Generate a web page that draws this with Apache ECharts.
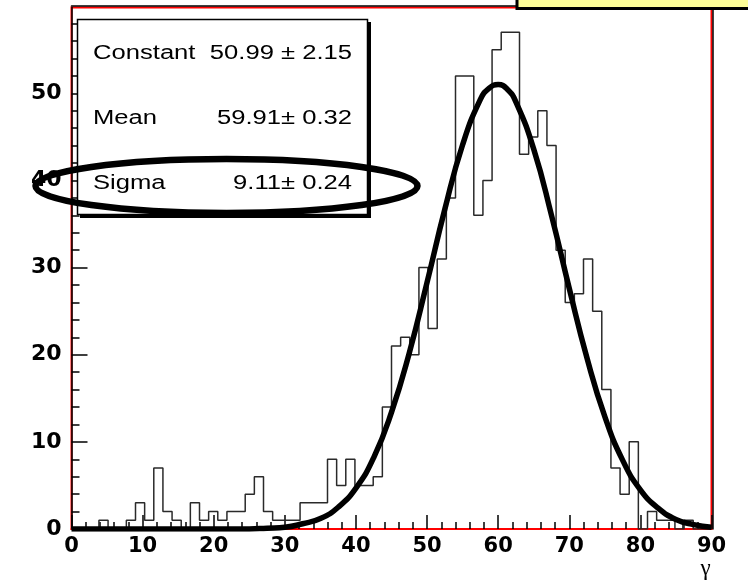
<!DOCTYPE html>
<html lang="en">
<head>
<meta charset="UTF-8">
<title>gaus fit</title>
<style>html,body{margin:0;padding:0;background:#fff;}</style>
</head>
<body>
<div id="chart" style="width:748px;height:584px"></div>
<script src="https://cdn.jsdelivr.net/npm/echarts@6/dist/echarts.min.js"></script>
<script>
// histogram, 70 bins between xMin and xMax
var xMin = 0, xMax = 90;
var yMax = 59.85;
var counts = [
  0, 0, 0, 1, 0, 0, 1, 3, 1, 7,
  2, 1, 0, 3, 1, 2, 1, 2, 2, 4,
  6, 2, 1, 1, 1, 3, 3, 3, 8, 5,
  8, 5, 5, 6, 14, 21, 22, 20, 30, 23,
  31, 38, 52, 52, 36, 40, 55, 57, 57, 43,
  45, 48, 44, 32, 26, 27, 31, 25, 16, 7,
  4, 10, 0, 2, 1, 1, 0, 1, 0, 0
];
// gaussian fit curve
var fitX = [0, 10, 20, 25, 27.5, 30, 32.5, 35, 37.5, 40, 42.5, 45, 47.5, 50, 52.5, 55, 57.5,
  58.75, 60, 61.25, 62.5, 65, 67.5, 70, 72.5, 75, 77.5, 80, 82.5, 85, 87.5, 90];
var fitY = [0, 0, 0, 0, 0.1, 0.2, 0.6, 1.2, 2.5, 4.7, 8.2, 13.4, 20.2, 28.3, 36.7, 44.1, 49.3,
  50.6, 51.0, 50.5, 49.0, 43.6, 36.0, 27.6, 19.6, 12.9, 7.9, 4.5, 2.4, 1.1, 0.5, 0.2];
var yTicks = [0, 10, 20, 30, 40, 50];
var statNames = ['Constant', 'Mean', 'Sigma'];
var statValues = ['50.99 \u00b1 2.15', '59.91\u00b1 0.32', '9.11\u00b1 0.24'];

var binWidth = (xMax - xMin) / counts.length;
var histData = counts.map(function (c, i) { return [xMin + i * binWidth, c]; });
histData.push([xMax, counts[counts.length - 1]]);
var fitData = fitX.map(function (x, i) { return [x, fitY[i]]; });

var chart = echarts.init(document.getElementById('chart'));

// stats box
var statRows = [53, 118.5, 183.5];
var graphics = [
  { type: 'rect', z: 50, shape: { x: 80, y: 22, width: 291, height: 196 }, style: { fill: '#000' } },
  { type: 'rect', z: 51, shape: { x: 77.5, y: 19.5, width: 290, height: 195 }, style: { fill: '#fff', stroke: '#000', lineWidth: 1.5 } }
];
statNames.forEach(function (n, i) {
  graphics.push({ type: 'text', z: 52, x: 93, y: statRows[i], scaleX: 1.28,
    style: { text: n, fill: '#000', font: '20px "Liberation Sans"', textAlign: 'left', textVerticalAlign: 'middle' } });
  graphics.push({ type: 'text', z: 52, x: 352, y: statRows[i], scaleX: 1.28,
    style: { text: statValues[i], fill: '#000', font: '20px "Liberation Sans"', textAlign: 'right', textVerticalAlign: 'middle' } });
});
// hand drawn ellipse round the sigma row
graphics.push({ type: 'ellipse', z: 60, shape: { cx: 226.5, cy: 186, rx: 191, ry: 27 },
  style: { fill: null, stroke: '#000', lineWidth: 6.5 } });
// cut off title box
graphics.push({ type: 'rect', z: 60, shape: { x: 517, y: -6, width: 240, height: 14.5 },
  style: { fill: '#ffff99', stroke: '#000', lineWidth: 3 } });

var labelFont = { color: '#000', fontFamily: 'DejaVu Sans', fontWeight: 'bold' };

var option = {
  animation: false,
  backgroundColor: '#fff',
  grid: {
    left: 71.5, right: 36.5, top: 7.5, bottom: 55,
    show: true, borderColor: '#ff0000', borderWidth: 2, backgroundColor: 'transparent',
    outerBoundsMode: 'none'
  },
  xAxis: [{
    type: 'value', min: xMin, max: xMax, interval: 10, position: 'bottom',
    axisLine: { show: true, onZero: false, lineStyle: { color: '#ff0000', width: 2 } },
    axisTick: { show: true, inside: true, length: 14, lineStyle: { color: '#000', width: 1.5 } },
    minorTick: { show: true, splitNumber: 5, length: 7, lineStyle: { color: '#000', width: 1.5 } },
    axisLabel: Object.assign({ fontSize: 21, margin: 7 }, labelFont),
    splitLine: { show: false },
    name: '\u03b3', nameLocation: 'end', nameGap: -6, nameMoveOverlap: false,
    nameTextStyle: { color: '#000', fontFamily: 'Liberation Serif', fontSize: 23, align: 'center', verticalAlign: 'top', padding: [28, 0, 0, 0] }
  }, {
    type: 'value', min: xMin, max: xMax, position: 'top', offset: 1.5,
    axisLine: { show: true, onZero: false, lineStyle: { color: '#000', width: 1.5 } },
    axisTick: { show: false }, axisLabel: { show: false }, splitLine: { show: false }
  }],
  yAxis: [{
    type: 'value', min: 0, max: yMax, interval: 10, position: 'left',
    axisLine: { show: true, onZero: false, lineStyle: { color: '#000', width: 1.5 } },
    axisTick: { show: true, inside: true, length: 16, customValues: yTicks, lineStyle: { color: '#000', width: 1.5 } },
    minorTick: { show: true, splitNumber: 5, length: 8, lineStyle: { color: '#000', width: 1.5 } },
    axisLabel: Object.assign({ fontSize: 22, margin: 10, customValues: yTicks }, labelFont),
    splitLine: { show: false }
  }, {
    type: 'value', min: 0, max: yMax, position: 'right', offset: 1.5,
    axisLine: { show: true, onZero: false, lineStyle: { color: '#000', width: 1.5 } },
    axisTick: { show: false }, axisLabel: { show: false }, splitLine: { show: false }
  }],
  series: [{
    name: 'hist', type: 'line', step: 'end', symbol: 'none',
    data: histData,
    lineStyle: { color: '#2a2a2a', width: 1.5 },
    z: 3
  }, {
    name: 'fit', type: 'line', smooth: 0.5, symbol: 'none',
    data: fitData,
    lineStyle: { color: '#000', width: 5.5 },
    z: 4
  }],
  graphic: graphics
};
chart.setOption(option);
</script>
</body>
</html>
